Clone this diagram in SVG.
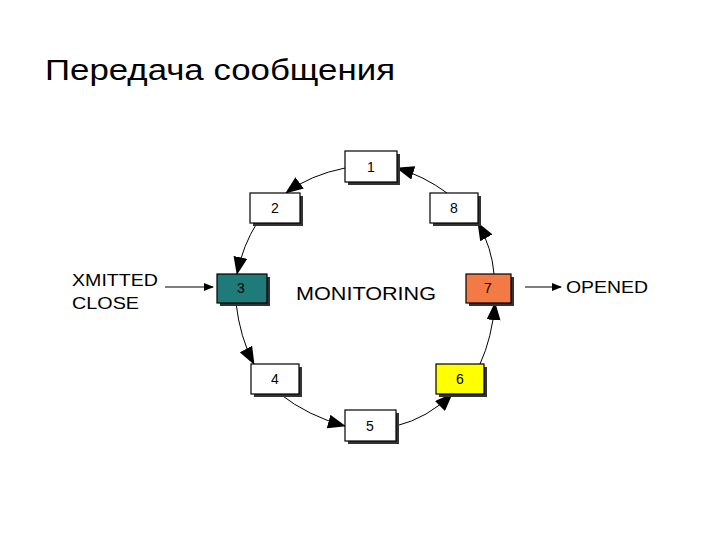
<svg xmlns="http://www.w3.org/2000/svg" width="720" height="540" viewBox="0 0 720 540">
<style>
text{font-family:"Liberation Sans",Arial,sans-serif;fill:#000}
.b{stroke:#000;stroke-width:1.2}
.sh{fill:#333}
.n{font-size:14px;text-anchor:middle}
.c{fill:none;stroke:#000;stroke-width:1}
</style>
<defs>
<marker id="a" markerWidth="18" markerHeight="14" refX="17" refY="7" orient="auto" markerUnits="userSpaceOnUse"><path d="M0,0L18,7L0,14z" fill="#000"/></marker>
<marker id="s" markerWidth="10" markerHeight="8" refX="9" refY="4" orient="auto" markerUnits="userSpaceOnUse"><path d="M0,0L10,4L0,8z" fill="#000"/></marker>
</defs>
<rect width="720" height="540" fill="#fff"/>
<text x="45" y="80" font-size="30" textLength="350" lengthAdjust="spacingAndGlyphs">Передача сообщения</text>
<g id="connectors">
<path class="c" d="M345,168 Q310,175 286,193" marker-end="url(#a)"/>
<path class="c" d="M257,223 Q243,245 237,274" marker-end="url(#a)"/>
<path class="c" d="M236,303 Q240,338 254,364" marker-end="url(#a)"/>
<path class="c" d="M280,394 Q308,416 345,426" marker-end="url(#a)"/>
<path class="c" d="M396,426 Q428,418 452,394" marker-end="url(#a)"/>
<path class="c" d="M480,364 Q492,338 495,303" marker-end="url(#a)"/>
<path class="c" d="M494,274 Q492,248 478,223" marker-end="url(#a)"/>
<path class="c" d="M447,193 Q424,176 397,168" marker-end="url(#a)"/>
<path class="c" d="M165,287 L213,287" marker-end="url(#s)"/>
<path class="c" d="M525,287 L561,287" marker-end="url(#s)"/>
</g>
<g id="n1"><rect class="sh" x="348" y="154" width="52" height="31"/><rect class="b" x="345" y="151" width="52" height="31" fill="#fff"/><text class="n" x="371" y="172">1</text></g>
<g id="n2"><rect class="sh" x="253" y="196" width="50" height="30"/><rect class="b" x="250" y="193" width="50" height="30" fill="#fff"/><text class="n" x="275" y="213">2</text></g>
<g id="n8"><rect class="sh" x="433" y="196" width="48" height="30"/><rect class="b" x="430" y="193" width="48" height="30" fill="#fff"/><text class="n" x="454" y="213">8</text></g>
<g id="n3"><rect class="sh" x="220" y="277" width="50" height="29"/><rect class="b" x="217" y="274" width="50" height="29" fill="#1f7a7a"/><text class="n" x="241" y="293">3</text></g>
<g id="n7"><rect class="sh" x="469" y="277" width="45" height="29"/><rect class="b" x="466" y="274" width="45" height="29" fill="#f47a45"/><text class="n" x="488" y="293">7</text></g>
<g id="n4"><rect class="sh" x="254" y="367" width="48" height="30"/><rect class="b" x="251" y="364" width="48" height="30" fill="#fff"/><text class="n" x="275" y="384">4</text></g>
<g id="n6"><rect class="sh" x="439" y="367" width="48" height="30"/><rect class="b" x="436" y="364" width="48" height="30" fill="#ffff00"/><text class="n" x="460" y="384">6</text></g>
<g id="n5"><rect class="sh" x="348" y="413" width="51" height="31"/><rect class="b" x="345" y="410" width="51" height="31" fill="#fff"/><text class="n" x="370" y="431">5</text></g>
<g id="labels">
<text x="296" y="300" font-size="19" textLength="140" lengthAdjust="spacingAndGlyphs">MONITORING</text>
<text x="72" y="286" font-size="17" textLength="86" lengthAdjust="spacingAndGlyphs">XMITTED</text>
<text x="72" y="309" font-size="17" textLength="67" lengthAdjust="spacingAndGlyphs">CLOSE</text>
<text x="566" y="293" font-size="17" textLength="82" lengthAdjust="spacingAndGlyphs">OPENED</text>
</g>
</svg>
